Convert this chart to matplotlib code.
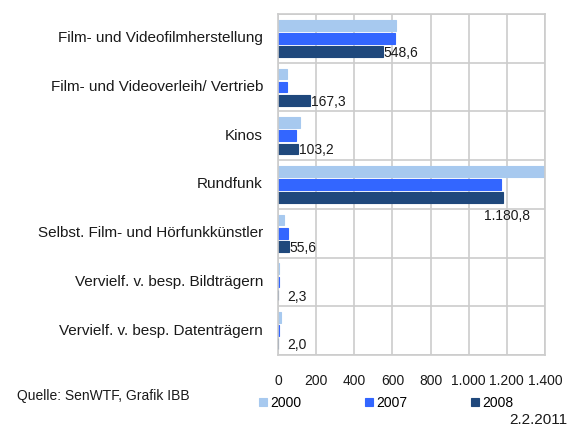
import numpy as np
import matplotlib
matplotlib.use('Agg')
import matplotlib.pyplot as plt
import matplotlib.transforms as mtransforms
from matplotlib.ticker import FuncFormatter

plt.rcParams['font.family'] = ['Liberation Sans', 'DejaVu Sans']

# data
categories = ['Film- und Videofilmherstellung', 'Film- und Videoverleih/ Vertrieb', 'Kinos',
              'Rundfunk', 'Selbst. Film- und Hörfunkkünstler',
              'Vervielf. v. besp. Bildträgern', 'Vervielf. v. besp. Datenträgern']
years = ['2000', '2007', '2008']
v2000 = [619, 49, 115, 1450, 33, 3, 15]
v2007 = [613, 48, 94, 1169, 54, 4, 5]
v2008 = [548.6, 167.3, 103.2, 1180.8, 55.6, 2.3, 2.0]
labels2008 = ['548,6', '167,3', '103,2', '1.180,8', '55,6', '2,3', '2,0']
colors = ['#a7c9ef', '#3366ff', '#1f487c']
txtcol = '#1a1a1a'

fig = plt.figure(figsize=(5.74, 4.26), dpi=100)
ax = fig.add_axes([278/574, 1 - 355/426, 267/574, 341/426])

y = np.arange(len(categories))
off = 0.27
h = 0.22
for k, (vals, col) in enumerate(zip([v2000, v2007, v2008], colors)):
    ax.barh(y + (k - 1) * off, vals, height=h, color=col, edgecolor=col,
            linewidth=0.8, label=years[k], zorder=2)

# value labels for 2008
for i, (v, t) in enumerate(zip(v2008, labels2008)):
    if v > 1000:
        ax.text(v + 18, y[i] + off + 0.38, t, ha='center', va='center', fontsize=10, color=txtcol)
    else:
        ax.text(max(v + 6, 47), y[i] + off + 0.03, t, ha='left', va='center', fontsize=10, color=txtcol)

ax.set_xlim(0, 1400)
ax.set_ylim(len(categories) - 0.5, -0.5)
ax.set_xticks(np.arange(0, 1401, 200))
ax.xaxis.set_major_formatter(FuncFormatter(lambda x, p: f'{int(x):,}'.replace(',', '.')))
ax.set_yticks(np.arange(-0.5, len(categories), 1))
ax.set_yticklabels([])
ax.grid(True, color='#cccccc', linewidth=1.2, zorder=0)
ax.set_axisbelow(True)
for s in ax.spines.values():
    s.set_color('#cccccc')
    s.set_linewidth(1.2)
ax.tick_params(length=0, labelsize=10, pad=14, colors=txtcol)

# category names, 15 px left of the axis
lab_tr = ax.get_yaxis_transform() + mtransforms.ScaledTranslation(-15/100, 0, fig.dpi_scale_trans)
for i, c in enumerate(categories):
    ax.text(0, y[i], c, ha='right', va='center', fontsize=11, color=txtcol, transform=lab_tr)

fig.legend(loc='center left', bbox_to_anchor=(259/574, 1 - 403/426), ncol=3,
           frameon=False, fontsize=10, handlelength=0.55, handleheight=0.55,
           handletextpad=0.25, columnspacing=4.6, borderpad=0, borderaxespad=0)
fig.text(17/574, 1 - 396/426, 'Quelle: SenWTF, Grafik IBB', fontsize=10, va='center', color=txtcol)
fig.text(567/574, 1 - 420/426, '2.2.2011', fontsize=11, ha='right', va='center', color=txtcol)

fig.savefig('out.png', dpi=100)
